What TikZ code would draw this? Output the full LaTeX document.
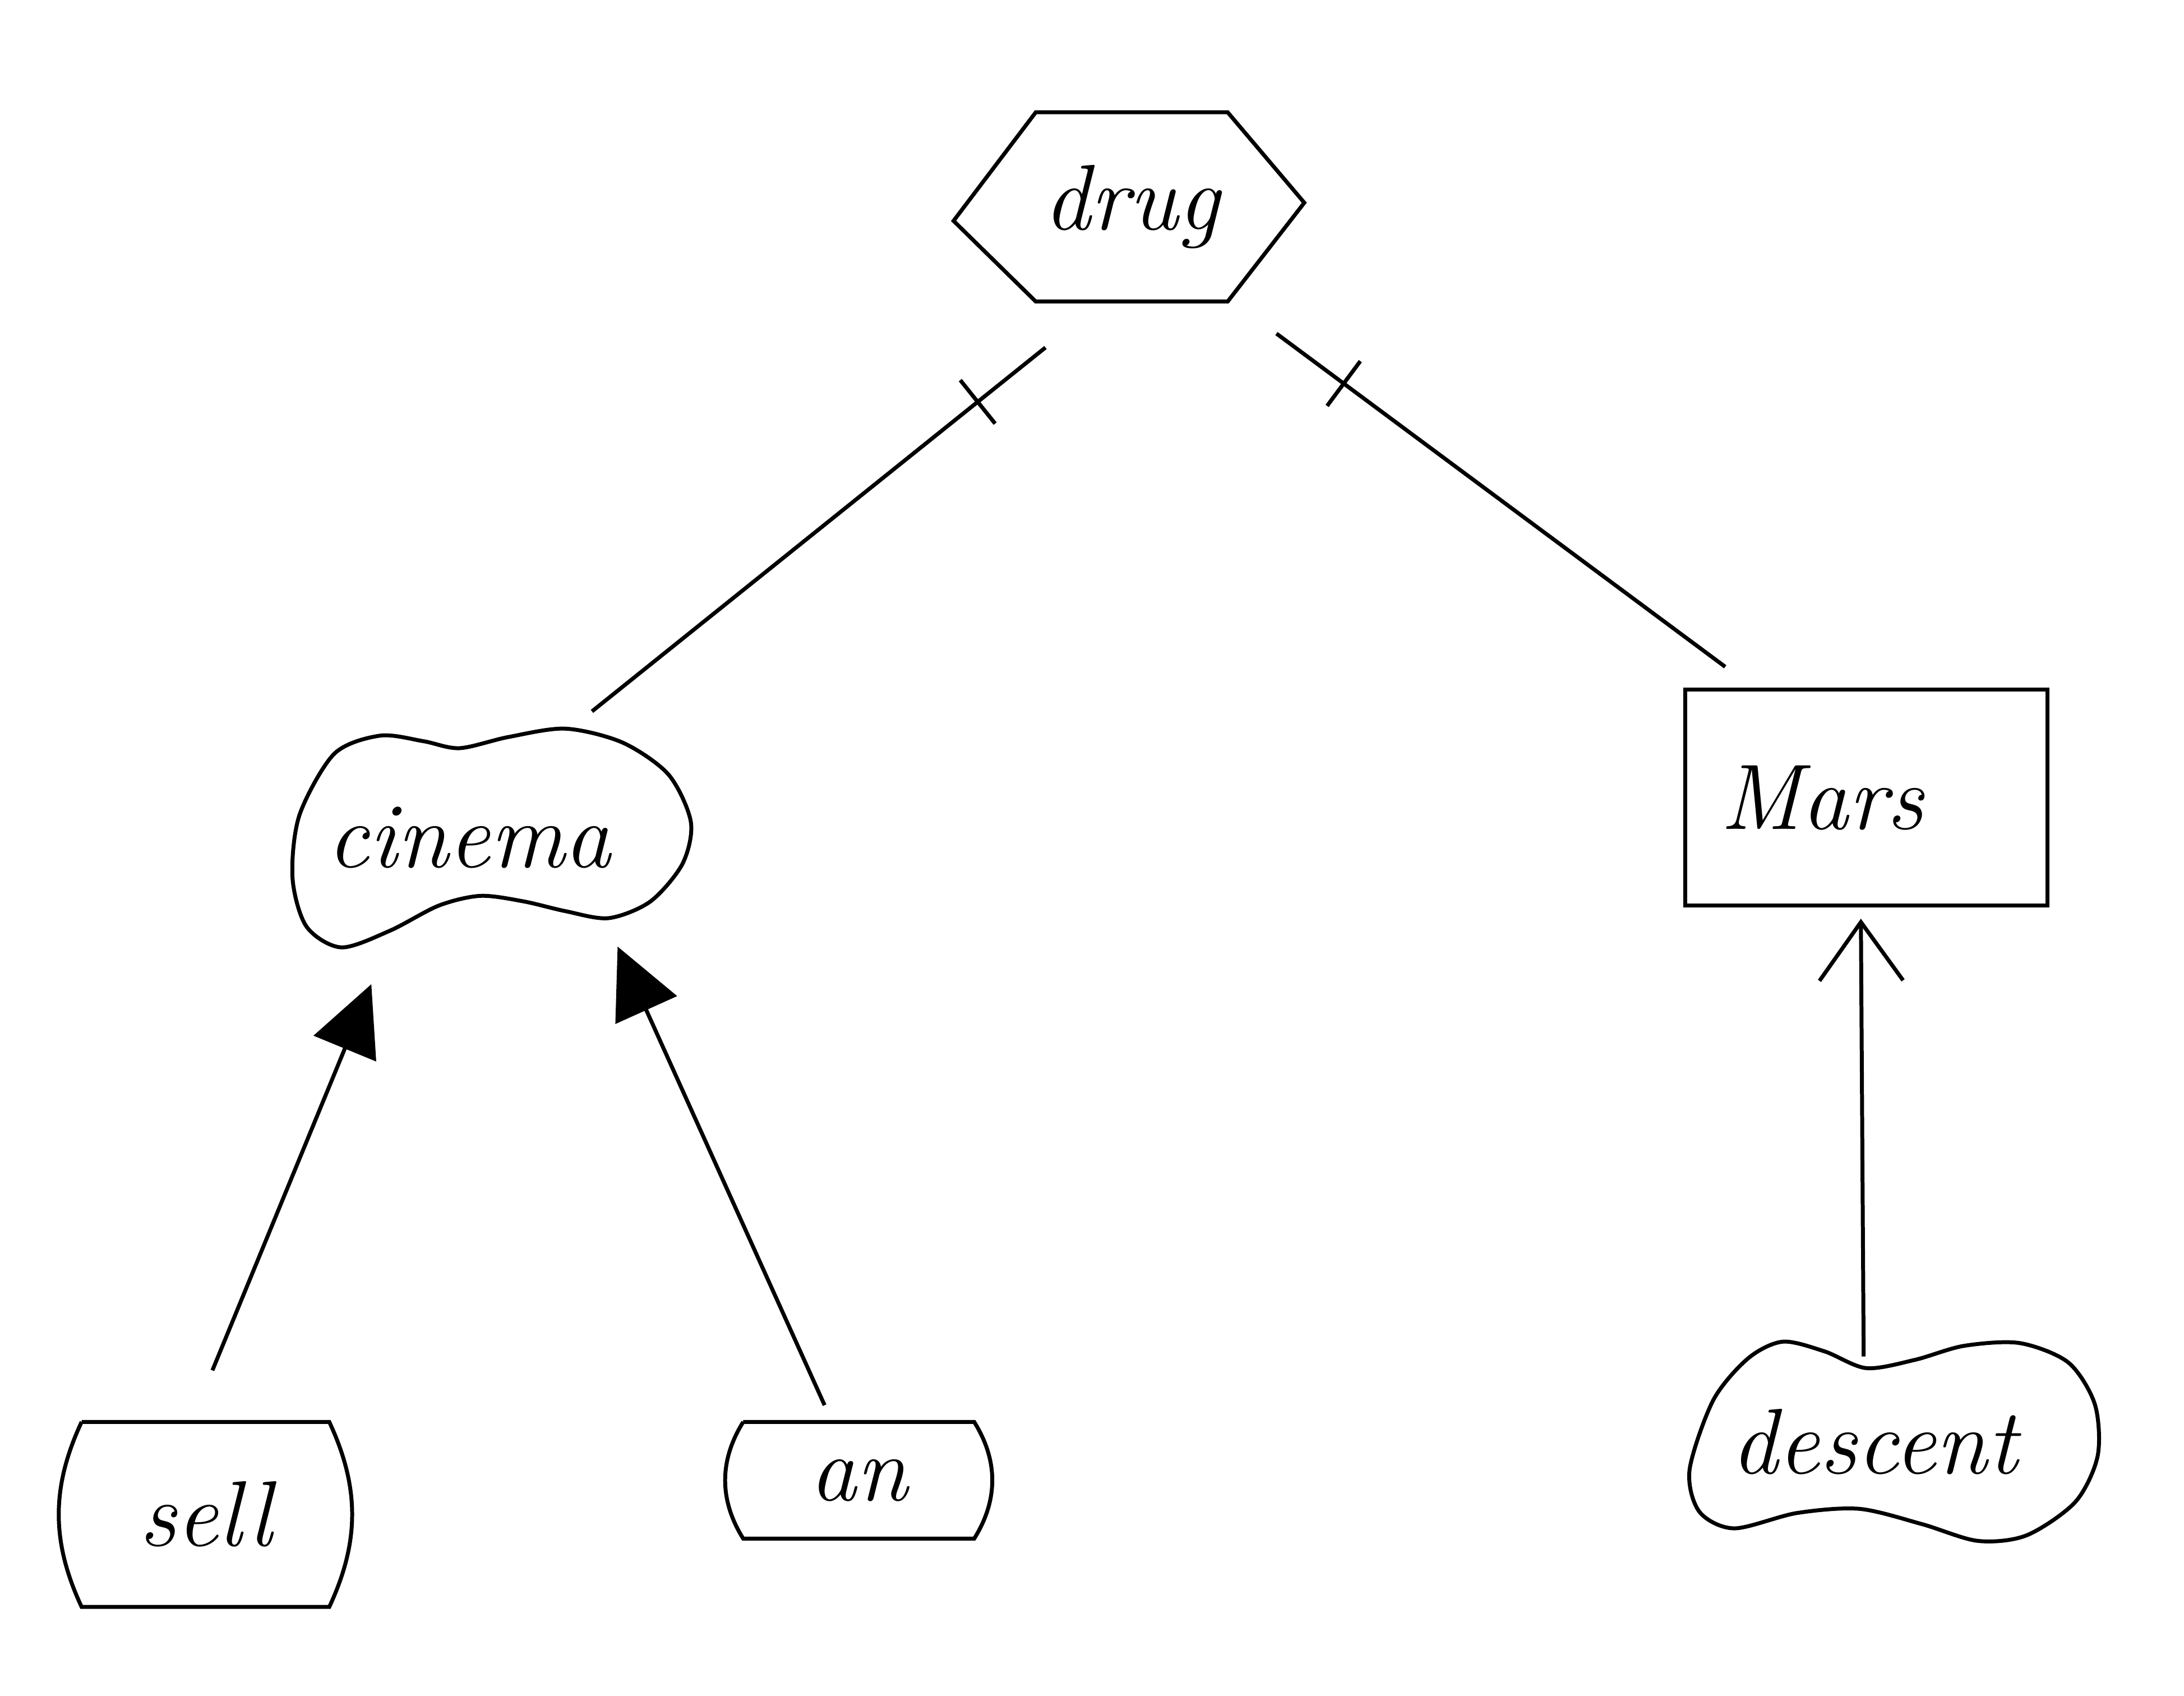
\documentclass[tikz,border=0pt]{standalone}
\usepackage{tikz}
\usetikzlibrary{arrows.meta,decorations.markings}

\tikzset{
  lbl/.style={font=\fontsize{19}{23}\selectfont\itshape},
  crossbar/.style={postaction={decorate},
    decoration={markings, mark=at position 0.15 with {\draw (0,-0.2) -- (0,0.2);}}},
  headfill/.style={-{Triangle[length=0.5cm, width=0.48cm]}},
  headopen/.style={-{Straight Barb[length=0.42cm, width=0.6cm]}},
}

\begin{document}
\begin{tikzpicture}[x=1cm, y=-1cm, line width=0.8pt]
    \useasboundingbox (0,0) rectangle (15.68,12.17);
    % nodes
    \node[lbl, inner sep=0pt, minimum width=1.35cm, minimum height=1.33cm](drug)at(8.125,1.485){drug};
    \node[lbl, minimum width=2.87cm, minimum height=1.58cm, inner xsep=0.25cm, text width=2.37cm, align=left](cinema)at(3.535,6.01){cinema};
    \node[lbl, draw, minimum width=2.6cm, minimum height=1.55cm, inner xsep=0.25cm, text width=2.1cm, align=left](Mars)at(13.4,5.725){Mars};
    \node[lbl, minimum width=2.95cm, minimum height=1.46cm, inner xsep=0.3cm, text width=2.35cm, align=left](descent)at(13.605,10.35){descent};
    \node[lbl, minimum width=1.75cm, minimum height=1.3cm](sell)at(1.475,10.87){sell};
    \node[lbl, minimum width=1.63cm, minimum height=0.81cm](an)at(6.165,10.625){an};
    % outlines
    \path[draw](drug.north west)--(drug.north east)--([shift={(0.55,-0.03)}]drug.east)--(drug.south east)
        --(drug.south west)--([shift={(-0.59,0.1)}]drug.west)--cycle;
    \path[draw]plot[smooth cycle]coordinates{(2.4,5.41)(2.73,5.28)(3.04,5.32)(3.3,5.37)(3.65,5.29)(4.06,5.23)
        (4.47,5.33)(4.8,5.56)(4.96,5.9)(4.9,6.2)(4.67,6.47)(4.37,6.59)(4.06,6.54)(3.76,6.47)
        (3.45,6.43)(3.15,6.5)(2.8,6.68)(2.45,6.8)(2.2,6.65)(2.1,6.3)(2.15,5.85)};
    \path[draw]plot[smooth cycle]coordinates{(12.3,10.05)(12.55,9.75)(12.8,9.63)(13.1,9.7)(13.4,9.82)(13.75,9.76)
        (14.1,9.66)(14.5,9.64)(14.85,9.78)(15.04,10.08)(15.06,10.45)(14.9,10.78)(14.55,11.02)(14.2,11.06)
        (13.8,10.94)(13.35,10.83)(12.9,10.86)(12.45,10.97)(12.2,10.85)(12.13,10.55)};
    \path[draw](sell.north west)--(sell.north east)to[bend left=25](sell.south east)--(sell.south west)to[bend left=25](sell.north west);
    \path[draw](an.north west)--(an.north east)to[bend left=32](an.south east)--(an.south west)to[bend left=32](an.north west);
    % edges
    \path[draw, crossbar]([shift={(0.07,0.33)}]drug.south west)to([shift={(0.715,-0.1)}]cinema.north);
    \path[draw, crossbar]([shift={(0.35,0.23)}]drug.south east)to([shift={(0.3,-0.15)}]Mars.north west);
    \path[draw, headopen]([shift={(-0.225,0.13)}]descent.north)to([shift={(-0.04,0.08)}]Mars.south);
    \path[draw, headfill]([shift={(0.05,-0.37)}]sell.north)to([shift={(0.58,0.25)}]cinema.south west);
    \path[draw, headfill]([shift={(-0.245,-0.12)}]an.north)to([shift={(-0.55,-0.02)}]cinema.south east);
\end{tikzpicture}
\end{document}
